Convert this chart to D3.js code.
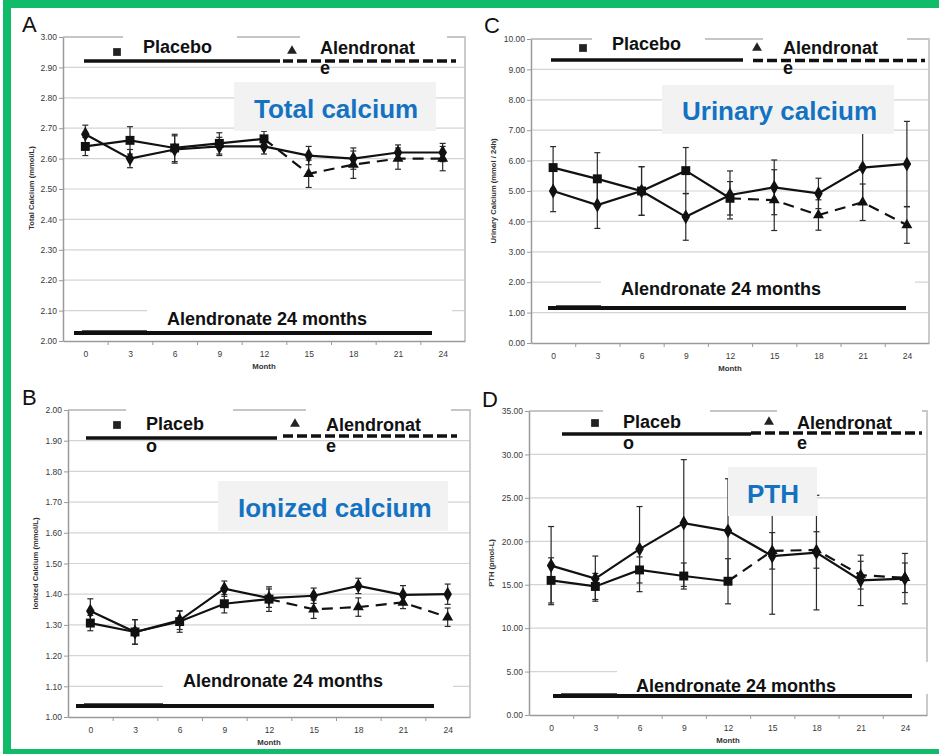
<!DOCTYPE html>
<html>
<head>
<meta charset="utf-8">
<script src="https://cdn.jsdelivr.net/npm/d3@7"></script>
<style>
  html, body { margin: 0; padding: 0; background: #fff; }
  svg { display: block; font-family: "Liberation Sans", Arial, sans-serif; }
</style>
</head>
<body>
<svg id="chart" width="939" height="754"></svg>
<script>
// ---------------- DATA ----------------
const months = [0, 3, 6, 9, 12, 15, 18, 21, 24];
const placeboMonths = [0, 3, 6, 9, 12];
const switchMonths = [15, 18, 21, 24];

// Panel A: Total calcium (mmol/L)
const totalCaTicks = [2.00, 2.10, 2.20, 2.30, 2.40, 2.50, 2.60, 2.70, 2.80, 2.90, 3.00];
const totalCaAlen24 = [2.68, 2.60, 2.63, 2.64, 2.64, 2.61, 2.60, 2.62, 2.62];
const totalCaAlen24Err = [0.03, 0.03, 0.045, 0.03, 0.025, 0.03, 0.035, 0.025, 0.03];
const totalCaPlacebo = [2.64, 2.66, 2.635, 2.65, 2.665];
const totalCaPlaceboErr = [0.03, 0.045, 0.045, 0.035, 0.025];
const totalCaSwitch = [2.55, 2.58, 2.60, 2.60];
const totalCaSwitchErr = [0.045, 0.045, 0.035, 0.04];

// Panel B: Ionized calcium (mmol/L)
const ionCaTicks = [1.00, 1.10, 1.20, 1.30, 1.40, 1.50, 1.60, 1.70, 1.80, 1.90, 2.00];
const ionCaAlen24 = [1.345, 1.277, 1.315, 1.418, 1.387, 1.395, 1.427, 1.398, 1.40];
const ionCaAlen24Err = [0.04, 0.04, 0.03, 0.025, 0.03, 0.025, 0.025, 0.03, 0.033];
const ionCaPlacebo = [1.306, 1.277, 1.311, 1.369, 1.384];
const ionCaPlaceboErr = [0.025, 0.04, 0.035, 0.03, 0.04];
const ionCaSwitch = [1.351, 1.358, 1.373, 1.325];
const ionCaSwitchErr = [0.03, 0.03, 0.02, 0.03];

// Panel C: Urinary calcium (mmol / 24h)
const urCaTicks = [0, 1, 2, 3, 4, 5, 6, 7, 8, 9, 10];
const urCaAlen24 = [5.0, 4.54, 5.0, 4.15, 4.87, 5.12, 4.92, 5.77, 5.89];
const urCaAlen24Err = [0.68, 0.77, 0.8, 0.77, 0.79, 0.9, 0.5, 1.2, 1.4];
const urCaPlacebo = [5.77, 5.40, 5.0, 5.67, 4.76];
const urCaPlaceboErr = [0.69, 0.86, 0.8, 0.76, 0.55];
const urCaSwitch = [4.70, 4.21, 4.63, 3.88];
const urCaSwitchErr = [1.0, 0.5, 0.6, 0.6];

// Panel D: PTH (pmol/L)
const pthTicks = [0, 5, 10, 15, 20, 25, 30, 35];
const pthAlen24 = [17.2, 15.7, 19.1, 22.1, 21.2, 18.3, 18.7, 15.5, 15.7];
const pthAlen24Err = [4.5, 2.6, 4.9, 7.3, 6.0, 6.7, 6.6, 2.9, 2.9];
const pthPlacebo = [15.5, 14.8, 16.7, 16.0, 15.4];
const pthPlaceboErr = [2.6, 1.5, 1.5, 1.5, 2.6];
const pthSwitch = [18.9, 19.0, 16.1, 15.8];
const pthSwitchErr = [2.1, 2.1, 1.6, 1.7];

// ---------------- DRAWING ----------------
const svg = d3.select("#chart");
const FONT = '"Liberation Sans", Arial, sans-serif';

function zip(xs, ys, es) { return xs.map((m, i) => ({ m: m, v: ys[i], e: es ? es[i] : 0 })); }

function panel(c) {
  const x = d3.scaleLinear().domain([-1.5, 25.5]).range([c.L, c.R]);
  const y = d3.scaleLinear().domain([c.yTicks[0], c.yTicks[c.yTicks.length - 1]]).range([c.B, c.T]);
  const g = svg.append("g");

  // gridlines
  g.selectAll("line.grid").data(c.yTicks.slice(1)).join("line")
    .attr("x1", c.L).attr("x2", c.R)
    .attr("y1", d => y(d)).attr("y2", d => y(d))
    .attr("stroke", "#d4d4d4").attr("stroke-width", 1.2);
  // top/right frame
  g.append("path")
    .attr("d", `M${c.L},${y(c.yTicks[c.yTicks.length - 1])}H${c.R}V${c.B}`)
    .attr("fill", "none").attr("stroke", "#c6c6c6").attr("stroke-width", 1.8);

  // y axis
  const ya = g.append("g").attr("transform", `translate(${c.L},0)`)
    .call(d3.axisLeft(y).tickValues(c.yTicks).tickFormat(d3.format(".2f")).tickSize(4).tickPadding(2).tickSizeOuter(0));
  ya.select(".domain").attr("stroke", "#9a9a9a").attr("stroke-width", 1.5);
  ya.selectAll(".tick line").attr("stroke", "#9a9a9a");
  ya.selectAll(".tick text").attr("fill", "#3a3a3a").attr("font-size", 8.5).attr("font-family", FONT);

  // x axis labels
  const xa = g.append("g").attr("transform", `translate(0,${c.B})`)
    .call(d3.axisBottom(x).tickValues(months).tickSize(0).tickPadding(10).tickSizeOuter(0));
  xa.select(".domain").attr("stroke", "#9a9a9a").attr("stroke-width", 1.5);
  xa.selectAll(".tick text").attr("fill", "#3a3a3a").attr("font-size", 8.5).attr("font-family", FONT);
  // x minor tick marks between categories
  const xm = g.append("g").attr("transform", `translate(0,${c.B})`)
    .call(d3.axisBottom(x).tickValues(d3.range(1.5, 25, 3)).tickSize(4).tickFormat("").tickSizeOuter(0));
  xm.select(".domain").remove();
  xm.selectAll(".tick line").attr("stroke", "#9a9a9a");

  // axis titles
  g.append("text").attr("x", (c.L + c.R) / 2).attr("y", c.B + 28)
    .attr("text-anchor", "middle").attr("font-size", 7.8).attr("font-weight", "bold")
    .attr("fill", "#333").text("Month");
  g.append("text")
    .attr("transform", `translate(${c.yTitleX},${(c.T + c.B) / 2 + c.yTitleDy}) rotate(-90)`)
    .attr("text-anchor", "middle").attr("font-size", 7.6).attr("font-weight", "bold")
    .attr("fill", "#333").text(c.yTitle);

  // series
  const a24 = zip(months, c.alen24, c.alen24Err);
  const pl = zip(placeboMonths, c.placebo, c.placeboErr);
  const sw = zip(switchMonths, c.sw, c.swErr);
  const swLine = [pl[pl.length - 1]].concat(sw);

  const err = (data) => {
    const eg = g.append("g").attr("stroke", "#2a2a2a").attr("stroke-width", 1.2);
    eg.selectAll("line.v").data(data).join("line")
      .attr("x1", d => x(d.m)).attr("x2", d => x(d.m))
      .attr("y1", d => y(d.v - d.e)).attr("y2", d => y(d.v + d.e));
    eg.selectAll("line.t").data(data).join("line")
      .attr("x1", d => x(d.m) - 3).attr("x2", d => x(d.m) + 3)
      .attr("y1", d => y(d.v + d.e)).attr("y2", d => y(d.v + d.e));
    eg.selectAll("line.b").data(data).join("line")
      .attr("x1", d => x(d.m) - 3).attr("x2", d => x(d.m) + 3)
      .attr("y1", d => y(d.v - d.e)).attr("y2", d => y(d.v - d.e));
  };
  err(a24); err(pl); err(sw);

  const line = d3.line().x(d => x(d.m)).y(d => y(d.v));
  g.append("path").attr("d", line(swLine)).attr("fill", "none").attr("stroke", "#111")
    .attr("stroke-width", 2.2).attr("stroke-dasharray", "11,7");
  g.append("path").attr("d", line(pl)).attr("fill", "none").attr("stroke", "#111").attr("stroke-width", 2.2);
  g.append("path").attr("d", line(a24)).attr("fill", "none").attr("stroke", "#111").attr("stroke-width", 2.2);

  const sym = (type, size) => d3.symbol().type(type).size(size)();
  g.selectAll("path.tri").data(sw).join("path")
    .attr("transform", d => `translate(${x(d.m)},${y(d.v)})`)
    .attr("d", sym(d3.symbolTriangle, 52)).attr("fill", "#111");
  g.selectAll("path.sq").data(pl).join("path")
    .attr("transform", d => `translate(${x(d.m)},${y(d.v)})`)
    .attr("d", sym(d3.symbolSquare, 80)).attr("fill", "#111");
  g.selectAll("path.dia").data(a24).join("path")
    .attr("transform", d => `translate(${x(d.m)},${y(d.v)})`)
    .attr("d", sym(d3.symbolDiamond, 64)).attr("fill", "#111");

  // ---- annotations (layout) ----
  const L = c.lg;
  g.append("text").attr("x", c.letterX).attr("y", c.letterY).attr("font-size", 22)
    .attr("fill", "#111").text(c.letter);

  g.append("rect").attr("x", L.pBox[0]).attr("y", L.pBox[1]).attr("width", L.pBox[2]).attr("height", L.pBox[3]).attr("fill", "#fff");
  g.append("rect").attr("x", L.aBox[0]).attr("y", L.aBox[1]).attr("width", L.aBox[2]).attr("height", L.aBox[3]).attr("fill", "#fff");
  g.append("line").attr("x1", L.pLine[0]).attr("x2", L.pLine[1]).attr("y1", L.pLine[2]).attr("y2", L.pLine[2])
    .attr("stroke", "#111").attr("stroke-width", 3.6);
  g.append("line").attr("x1", L.aLine[0]).attr("x2", L.aLine[1]).attr("y1", L.aLine[2]).attr("y2", L.aLine[2])
    .attr("stroke", "#111").attr("stroke-width", 3.6).attr("stroke-dasharray", "10,4");
  g.append("path").attr("transform", `translate(${L.sq[0]},${L.sq[1]})`).attr("d", sym(d3.symbolSquare, 60)).attr("fill", "#222");
  g.append("path").attr("transform", `translate(${L.tri[0]},${L.tri[1]})`).attr("d", sym(d3.symbolTriangle, 42)).attr("fill", "#222");
  L.pText.forEach(t => g.append("text").attr("x", t[0]).attr("y", t[1]).attr("font-size", 18)
    .attr("font-weight", "bold").attr("fill", "#111").text(t[2]));
  L.aText.forEach(t => g.append("text").attr("x", t[0]).attr("y", t[1]).attr("font-size", 18)
    .attr("font-weight", "bold").attr("fill", "#111").text(t[2]));

  g.append("rect").attr("x", c.tBox[0]).attr("y", c.tBox[1]).attr("width", c.tBox[2]).attr("height", c.tBox[3]).attr("fill", "#f2f2f2");
  g.append("text").attr("x", c.tText[0]).attr("y", c.tText[1]).attr("font-size", 26).attr("font-weight", "bold")
    .attr("fill", "#1372c2").text(c.title);

  g.append("rect").attr("x", c.bBox[0]).attr("y", c.bBox[1]).attr("width", c.bBox[2]).attr("height", c.bBox[3]).attr("fill", "#fff");
  g.append("line").attr("x1", c.bLine[0] + 8).attr("x2", c.bBox[0]).attr("y1", c.bLine[2] - 2).attr("y2", c.bLine[2] - 2)
    .attr("stroke", "#222").attr("stroke-width", 1.5);
  g.append("line").attr("x1", c.bLine[0]).attr("x2", c.bLine[1]).attr("y1", c.bLine[2]).attr("y2", c.bLine[2])
    .attr("stroke", "#111").attr("stroke-width", 4);
  g.append("text").attr("x", c.bText[0]).attr("y", c.bText[1]).attr("font-size", 18).attr("font-weight", "bold")
    .attr("fill", "#111").text("Alendronate 24 months");
}

// Panel A
panel({
  L: 63, R: 465, T: 37, B: 341, yTicks: totalCaTicks,
  alen24: totalCaAlen24, alen24Err: totalCaAlen24Err,
  placebo: totalCaPlacebo, placeboErr: totalCaPlaceboErr,
  sw: totalCaSwitch, swErr: totalCaSwitchErr,
  yTitle: "Total Calcium (mmol/L)", yTitleX: 34, yTitleDy: -1,
  letter: "A", letterX: 22, letterY: 32,
  lg: { pBox: [123, 28, 114, 28], aBox: [300, 28, 147, 28],
        pLine: [84, 280, 61], aLine: [283, 456, 61], sq: [117, 52], tri: [292, 51],
        pText: [[143, 53, "Placebo"]], aText: [[320, 54, "Alendronat"], [320, 74, "e"]] },
  title: "Total calcium", tBox: [234, 82, 202, 49], tText: [254, 118],
  bBox: [147, 306, 305, 25], bLine: [74, 432, 333], bText: [167, 325]
});

// Panel C
panel({
  L: 531, R: 929, T: 39, B: 343, yTicks: urCaTicks,
  alen24: urCaAlen24, alen24Err: urCaAlen24Err,
  placebo: urCaPlacebo, placeboErr: urCaPlaceboErr,
  sw: urCaSwitch, swErr: urCaSwitchErr,
  yTitle: "Urinary Calcium (mmol / 24h)", yTitleX: 496, yTitleDy: 0,
  letter: "C", letterX: 484, letterY: 33,
  lg: { pBox: [592, 30, 113, 26], aBox: [763, 30, 144, 26],
        pLine: [551, 743, 60], aLine: [753, 925, 60.5], sq: [583, 48], tri: [757, 48],
        pText: [[612, 50, "Placebo"]], aText: [[783, 54, "Alendronat"], [783, 74, "e"]] },
  title: "Urinary calcium", tBox: [662, 85, 232, 49], tText: [682, 120],
  bBox: [601, 277, 314, 24], bLine: [548, 906, 308], bText: [621, 295]
});

// Panel B
panel({
  L: 68, R: 470, T: 410, B: 717, yTicks: ionCaTicks,
  alen24: ionCaAlen24, alen24Err: ionCaAlen24Err,
  placebo: ionCaPlacebo, placeboErr: ionCaPlaceboErr,
  sw: ionCaSwitch, swErr: ionCaSwitchErr,
  yTitle: "Ionized Calcium (mmol/L)", yTitleX: 38, yTitleDy: 0,
  letter: "B", letterX: 22, letterY: 405,
  lg: { pBox: [126, 402, 107, 32], aBox: [306, 402, 145, 30],
        pLine: [86, 277, 438], aLine: [283, 457, 436], sq: [117, 425], tri: [295, 424],
        pText: [[146, 430, "Placeb"], [146, 452, "o"]], aText: [[326, 431, "Alendronat"], [326, 452, "e"]] },
  title: "Ionized calcium", tBox: [218, 481, 230, 50], tText: [238, 517],
  bBox: [163, 668, 290, 25], bLine: [76, 434, 706], bText: [183, 687]
});

// Panel D
panel({
  L: 529, R: 927, T: 411, B: 715, yTicks: pthTicks,
  alen24: pthAlen24, alen24Err: pthAlen24Err,
  placebo: pthPlacebo, placeboErr: pthPlaceboErr,
  sw: pthSwitch, swErr: pthSwitchErr,
  yTitle: "PTH (pmol-L)", yTitleX: 494, yTitleDy: 0,
  letter: "D", letterX: 482, letterY: 407,
  lg: { pBox: [603, 403, 107, 27], aBox: [777, 403, 145, 27],
        pLine: [562, 751, 434], aLine: [751, 922, 433], sq: [595, 423], tri: [769, 422],
        pText: [[623, 428, "Placeb"], [623, 449, "o"]], aText: [[797, 429, "Alendronat"], [797, 449, "e"]] },
  title: "PTH", tBox: [728, 467, 89, 49], tText: [747, 503],
  bBox: [617, 662, 313, 32], bLine: [553, 912, 696], bText: [636, 692]
});

// green frame
const green = "#10bb69";
svg.append("rect").attr("x", 3).attr("y", 0).attr("width", 936).attr("height", 8).attr("fill", green);
svg.append("rect").attr("x", 3).attr("y", 0).attr("width", 8).attr("height", 754).attr("fill", green);
svg.append("rect").attr("x", 3).attr("y", 749).attr("width", 936).attr("height", 5).attr("fill", green);
</script>
</body>
</html>
